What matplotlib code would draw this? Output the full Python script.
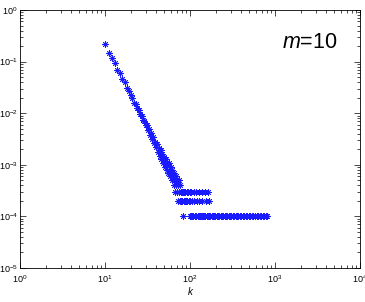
import matplotlib
matplotlib.use("Agg")
import matplotlib.pyplot as plt
from matplotlib.ticker import LogLocator, NullFormatter

plt.rcParams['font.family'] = ['Liberation Sans', 'DejaVu Sans']
plt.rcParams['mathtext.fontset'] = 'custom'
plt.rcParams['mathtext.rm'] = 'Liberation Sans'
plt.rcParams['mathtext.it'] = 'Liberation Sans:italic'
plt.rcParams['mathtext.default'] = 'regular'

N_nodes = 10000

# main body: degree k and node counts
k_main = list(range(10, 81))
count_main = [2150, 1480, 1190, 930, 690, 590, 455, 395, 310, 275,
              222, 201, 160, 150, 124, 115, 95, 90, 74, 72,
              58, 60, 47, 49, 38, 41, 31, 34, 26, 28,
              22, 25, 18, 21, 15, 19, 13, 16, 11, 14,
              12, 9, 13, 8, 10, 7, 11, 8, 6, 9,
              7, 5, 8, 6, 4, 7, 5, 3, 6, 4,
              5, 3, 4, 2, 5, 3, 4, 2, 3, 2, 3]

# tail degrees observed with 3, 2 and 1 nodes
k_tail3 = [82, 85, 88, 91, 95, 99, 104, 110, 118, 126, 137, 150, 165]
k_tail2 = [81, 84, 87, 90, 93, 97, 101, 106, 112, 120, 128, 140, 155, 168]
k_tail1 = [83, 99, 103, 106, 109, 113, 116, 119, 123, 127, 131, 134, 138, 143,
           147, 152, 158, 163, 169, 174, 181, 187, 193, 199, 207, 214, 222, 229,
           238, 246, 255, 263, 274, 284, 295, 306, 318, 331, 344, 358, 372, 388,
           403, 420, 437, 455, 474, 493, 514, 536, 558, 583, 608, 634, 662, 690,
           720, 752, 785, 811]

k_all = k_main + k_tail3 + k_tail2 + k_tail1
c_all = count_main + [3] * len(k_tail3) + [2] * len(k_tail2) + [1] * len(k_tail1)
p_all = [c / N_nodes for c in c_all]

fig = plt.figure(figsize=(3.65, 3.02), dpi=100)
ax = fig.add_axes([20 / 365, 34 / 302, 340 / 365, 258 / 302])

ax.plot(k_all, p_all, linestyle='none', marker=(8, 2, 0), markersize=4.5,
        markeredgewidth=0.6, color='#1a1aff')

ax.set_xscale('log')
ax.set_yscale('log')
ax.set_xlim(1, 1e4)
ax.set_ylim(1e-5, 1)

ax.xaxis.set_major_locator(LogLocator(base=10, numticks=10))
ax.yaxis.set_major_locator(LogLocator(base=10, numticks=10))
ax.xaxis.set_minor_locator(LogLocator(base=10, subs=range(2, 10), numticks=20))
ax.yaxis.set_minor_locator(LogLocator(base=10, subs=range(2, 10), numticks=20))
ax.xaxis.set_minor_formatter(NullFormatter())
ax.yaxis.set_minor_formatter(NullFormatter())

ax.tick_params(which='both', direction='in', top=True, right=True,
               labelsize=6.5, width=0.5)
ax.tick_params(axis='y', pad=1.5)
ax.tick_params(axis='x', pad=4)
ax.tick_params(which='major', length=4)
ax.tick_params(which='minor', length=2)
for s in ax.spines.values():
    s.set_linewidth(0.6)

ax.set_xlabel('k', fontstyle='italic', fontsize=7, labelpad=1)

ax.text(0.77, 0.875, r'$\it{m}$=10', transform=ax.transAxes, fontsize=15.5,
        ha='left', va='center')

fig.savefig('out.png', dpi=100)
